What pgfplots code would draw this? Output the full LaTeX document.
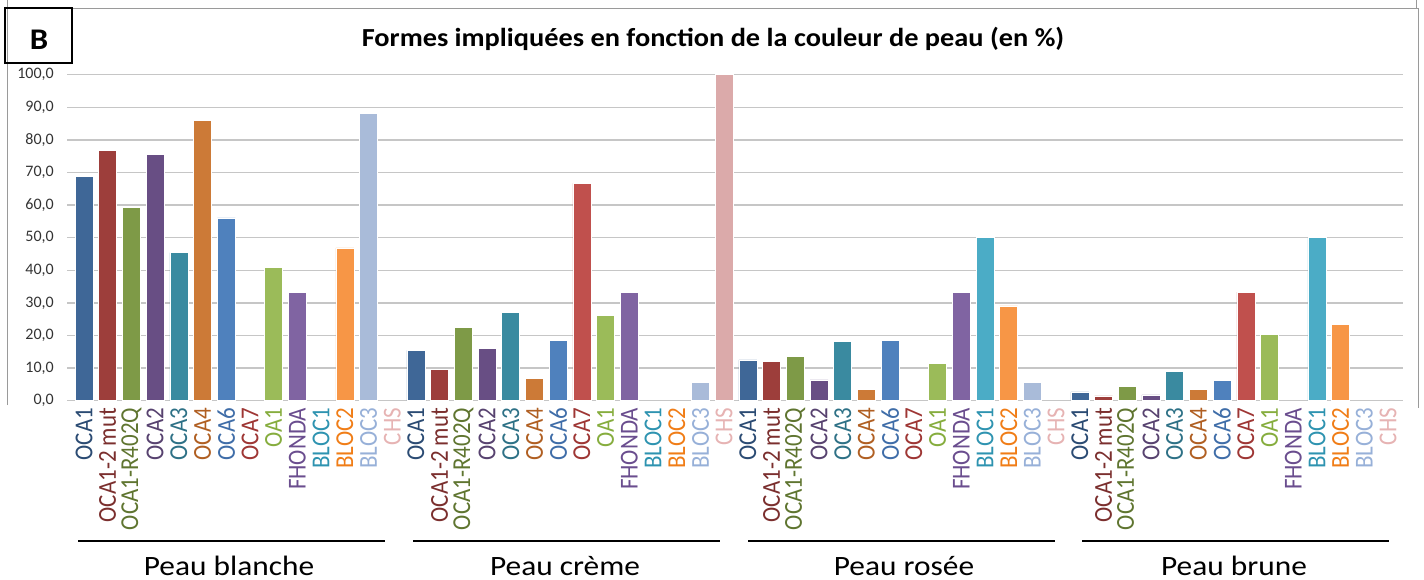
\documentclass[border=0pt]{standalone}
\usepackage{fontspec}
\setmainfont{Carlito}
\newfontfamily\widefont[FakeStretch=1.09]{Carlito}
\newfontfamily\grpfont[FakeStretch=1.12]{Carlito}
\newfontfamily\rotfont[FakeStretch=0.89]{Carlito}
\usepackage{pgfplots}
\pgfplotsset{compat=1.18}
% bar colours
\definecolor{bA}{HTML}{3F6797}
\definecolor{bB}{HTML}{9D3E3B}
\definecolor{bC}{HTML}{7E9A47}
\definecolor{bD}{HTML}{684E84}
\definecolor{bE}{HTML}{3A8AA0}
\definecolor{bF}{HTML}{CC7A37}
\definecolor{bG}{HTML}{4F81BD}
\definecolor{bH}{HTML}{C0504D}
\definecolor{bI}{HTML}{9BBB59}
\definecolor{bJ}{HTML}{8064A2}
\definecolor{bK}{HTML}{4BACC6}
\definecolor{bL}{HTML}{F79646}
\definecolor{bM}{HTML}{A9BBD9}
\definecolor{bN}{HTML}{DBAAAA}
% label colours
\definecolor{lA}{HTML}{2B4B73}
\definecolor{lB}{HTML}{7B2F2E}
\definecolor{lC}{HTML}{5F7530}
\definecolor{lD}{HTML}{57426F}
\definecolor{lE}{HTML}{2E7186}
\definecolor{lF}{HTML}{B05F22}
\definecolor{lG}{HTML}{3F6DA8}
\definecolor{lH}{HTML}{9E3634}
\definecolor{lI}{HTML}{86AD3E}
\definecolor{lJ}{HTML}{6A4D8E}
\definecolor{lK}{HTML}{2E93B0}
\definecolor{lL}{HTML}{F07D17}
\definecolor{lM}{HTML}{97B0D8}
\definecolor{lN}{HTML}{E6B3B3}
\definecolor{gridgray}{HTML}{C6C6C6}
\definecolor{framegray}{HTML}{9A9A9A}
\definecolor{ticktext}{HTML}{333333}
\begin{document}
\begin{tikzpicture}[x=1pt,y=1pt]
\useasboundingbox (0,0) rectangle (1424,-580);
% chart frame
\draw[framegray, line width=1pt] (7,-405) -- (7,0);
\draw[framegray, line width=1pt] (7,-8.5) -- (1418,-8.5) -- (1418,-408);
\draw[framegray, line width=1pt] (1416.5,0) -- (1416.5,-8.5);
\begin{axis}[
  at={(67pt,-400.7pt)}, anchor=south west,
  width=1336pt, height=326pt, scale only axis,
  xmin=-0.717, xmax=55.63, ymin=0, ymax=100,
  axis x line*=bottom, axis y line*=left,
  x axis line style={gridgray, line width=1.5pt, -},
  y axis line style={draw=none},
  tick style={draw=none},
  ymajorgrids, grid style={gridgray, line width=1.5pt},
  ytick={0,10,...,100},
  yticklabel style={/pgf/number format/fixed, /pgf/number format/fixed zerofill, /pgf/number format/precision=1, /pgf/number format/use comma, /pgf/number format/assume math mode=true},
  yticklabel style={font=\fontsize{16}{18}\selectfont, text=ticktext, inner sep=0pt, xshift=-13pt},
  xtick={0,...,55},
  xticklabels={
   \textcolor{lA}{OCA1},\textcolor{lB}{OCA1-2 mut},\textcolor{lC}{OCA1-R402Q},\textcolor{lD}{OCA2},\textcolor{lE}{OCA3},\textcolor{lF}{OCA4},\textcolor{lG}{OCA6},\textcolor{lH}{OCA7},\textcolor{lI}{OA1},\textcolor{lJ}{FHONDA},\textcolor{lK}{BLOC1},\textcolor{lL}{BLOC2},\textcolor{lM}{BLOC3},\textcolor{lN}{CHS},
   \textcolor{lA}{OCA1},\textcolor{lB}{OCA1-2 mut},\textcolor{lC}{OCA1-R402Q},\textcolor{lD}{OCA2},\textcolor{lE}{OCA3},\textcolor{lF}{OCA4},\textcolor{lG}{OCA6},\textcolor{lH}{OCA7},\textcolor{lI}{OA1},\textcolor{lJ}{FHONDA},\textcolor{lK}{BLOC1},\textcolor{lL}{BLOC2},\textcolor{lM}{BLOC3},\textcolor{lN}{CHS},
   \textcolor{lA}{OCA1},\textcolor{lB}{OCA1-2 mut},\textcolor{lC}{OCA1-R402Q},\textcolor{lD}{OCA2},\textcolor{lE}{OCA3},\textcolor{lF}{OCA4},\textcolor{lG}{OCA6},\textcolor{lH}{OCA7},\textcolor{lI}{OA1},\textcolor{lJ}{FHONDA},\textcolor{lK}{BLOC1},\textcolor{lL}{BLOC2},\textcolor{lM}{BLOC3},\textcolor{lN}{CHS},
   \textcolor{lA}{OCA1},\textcolor{lB}{OCA1-2 mut},\textcolor{lC}{OCA1-R402Q},\textcolor{lD}{OCA2},\textcolor{lE}{OCA3},\textcolor{lF}{OCA4},\textcolor{lG}{OCA6},\textcolor{lH}{OCA7},\textcolor{lI}{OA1},\textcolor{lJ}{FHONDA},\textcolor{lK}{BLOC1},\textcolor{lL}{BLOC2},\textcolor{lM}{BLOC3},\textcolor{lN}{CHS}},
  xticklabel style={rotate=90, anchor=east, inner sep=0pt, font=\rotfont\fontsize{25.8}{28}\selectfont},
  xticklabel shift=7pt,
  every axis plot/.append style={ybar, bar width=18pt, bar shift=0pt, draw=white, line width=0.6pt},
]
% OCA1
\addplot[fill=bA] coordinates {(0,68.7) (14,15.4) (28,12.5) (42,2.7)};
% OCA1-2 mut
\addplot[fill=bB] coordinates {(1,76.7) (15,9.7) (29,12.1) (43,1.5)};
% OCA1-R402Q
\addplot[fill=bC] coordinates {(2,59.4) (16,22.5) (30,13.5) (44,4.3)};
% OCA2
\addplot[fill=bD] coordinates {(3,75.5) (17,16.0) (31,6.4) (45,1.8)};
% OCA3
\addplot[fill=bE] coordinates {(4,45.4) (18,27.1) (32,18.1) (46,9.0)};
% OCA4
\addplot[fill=bF] coordinates {(5,86.0) (19,6.9) (33,3.4) (47,3.4)};
% OCA6
\addplot[fill=bG] coordinates {(6,56.1) (20,18.5) (34,18.5) (48,6.2)};
% OCA7
\addplot[fill=bH] coordinates {(21,66.7) (49,33.3)};
% OA1
\addplot[fill=bI] coordinates {(8,40.9) (22,26.2) (36,11.5) (50,20.4)};
% FHONDA
\addplot[fill=bJ] coordinates {(9,33.3) (23,33.3) (37,33.3)};
% BLOC1
\addplot[fill=bK] coordinates {(38,50.0) (52,50.0)};
% BLOC2
\addplot[fill=bL] coordinates {(11,46.9) (39,29.1) (53,23.4)};
% BLOC3
\addplot[fill=bM] coordinates {(12,88.1) (26,5.6) (40,5.6)};
% CHS
\addplot[fill=bN] coordinates {(27,100.0)};
\end{axis}
% title
\node[font=\widefont\bfseries\fontsize{26}{30}\selectfont, anchor=base] at (713,-46.7) {Formes impliquées en fonction de la couleur de peau (en \%)};
% panel letter
\draw[line width=2pt] (5,-8.3) rectangle (72.3,-62.7);
\node[font=\widefont\bfseries\fontsize{30}{32}\selectfont, anchor=base] at (39,-49.3) {B};
% group separators and labels
\draw[line width=1.5pt] (78,-541) -- (385,-541);
\draw[line width=1.5pt] (413,-541) -- (720,-541);
\draw[line width=1.5pt] (748,-541) -- (1055,-541);
\draw[line width=1.5pt] (1082,-541) -- (1389,-541);
\node[font=\grpfont\fontsize{28}{30}\selectfont, anchor=base] at (229,-575) {Peau blanche};
\node[font=\grpfont\fontsize{28}{30}\selectfont, anchor=base] at (565,-575) {Peau crème};
\node[font=\grpfont\fontsize{28}{30}\selectfont, anchor=base] at (904,-575) {Peau rosée};
\node[font=\grpfont\fontsize{28}{30}\selectfont, anchor=base] at (1234,-575) {Peau brune};
\end{tikzpicture}
\end{document}
